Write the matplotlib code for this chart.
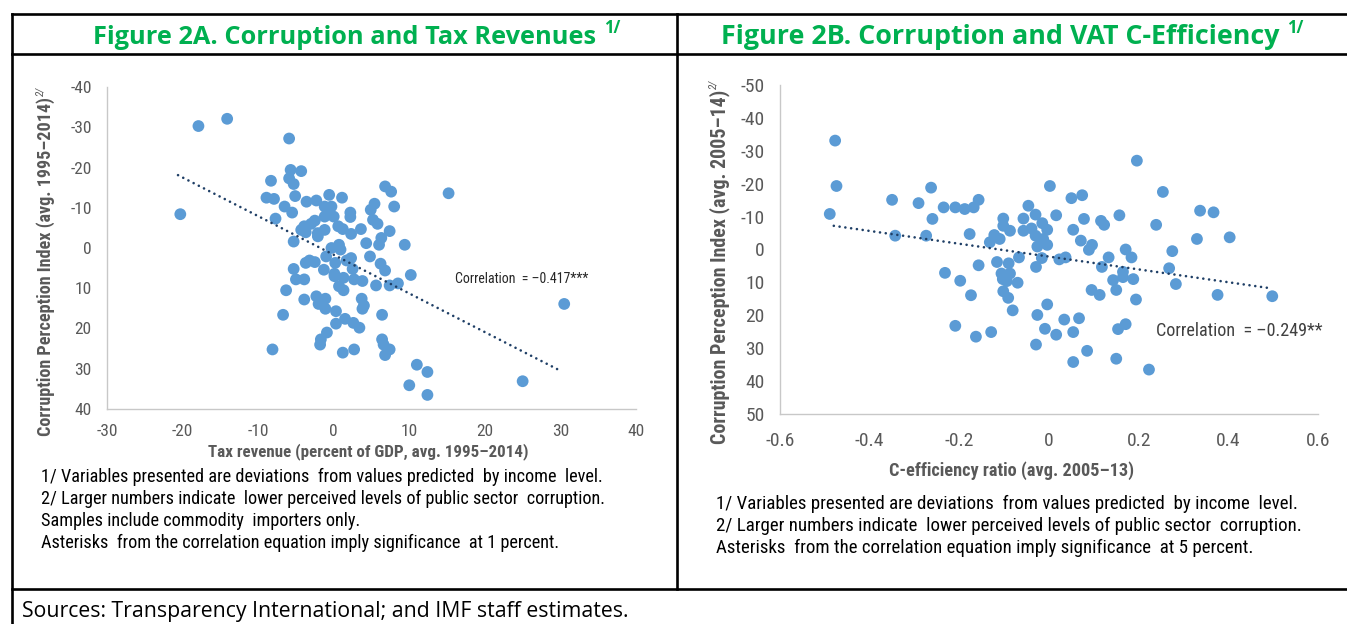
import matplotlib
matplotlib.use("Agg")
import matplotlib.pyplot as plt
from matplotlib.lines import Line2D
import logging
logging.getLogger('matplotlib.font_manager').setLevel(logging.ERROR)

plt.rcParams['axes.unicode_minus'] = False
NARROW = ['Liberation Sans Narrow', 'Roboto Condensed', 'Liberation Sans', 'DejaVu Sans']
SEGOE = ['Open Sans', 'Noto Sans', 'DejaVu Sans']
plt.rcParams['font.family'] = NARROW

# ---------------- data: Figure 2A ----------------
tax_dev = [-17.9, -14.1, -20.3, -5.9, -5.7, -4.3, -5.9, -5.3, -8.3, -8.9,
           -7.9, -5.1, -6.5, -5.5, -7.7, -3.6, -2.3, -0.6, 1.1, -1.2,
           -0.3, -0.7, 0.0, -1.2, 2.2, 2.2, -2.5, -3.0, -3.9, -4.3,
           -3.7, -2.1, -1.2, 0.6, 1.2, 2.3, 3.6, -5.3, -2.1, 5.4,
           4.9, 6.8, 7.6, 8.0, 5.2, 5.8, 7.4, 6.3, 6.0, 4.3,
           9.4, 15.2, -0.3, 0.7, 0.9, -1.0, 0.2, 1.7, 2.3, 2.5,
           4.8, -3.7, -3.2, -2.5, -5.3, -5.0, -3.9, -1.3, 0.1, 0.1,
           1.3, 2.7, 3.8, 6.2, 6.8, 5.6, 7.4, 8.5, 10.2, -6.3,
           -3.9, -2.3, -1.1, -2.0, -1.1, 0.7, 1.3, 0.3, 3.7, 4.0,
           3.8, -6.7, 6.4, 1.5, 0.3, 2.6, 3.4, -0.9, -1.7, -1.8,
           6.4, 6.6, 7.4, 6.8, -8.1, 1.2, 2.7, 11.0, 12.4, 10.0,
           12.4, 25.0, 30.5]
cpi_dev_a = [-30.3, -32.1, -8.4, -27.2, -19.4, -19.1, -17.3, -15.9, -16.7, -12.5,
             -12.2, -12.9, -10.3, -8.8, -7.3, -11.5, -11.8, -13.2, -12.5, -10.3,
             -10.3, -8.7, -7.8, -7.8, -8.8, -7.7, -6.8, -6.0, -5.4, -4.5,
             -3.9, -3.7, -4.5, -5.4, -4.7, -3.5, -4.7, -1.6, -2.9, -11.0,
             -9.5, -15.3, -14.0, -10.3, -7.0, -6.0, -4.2, -2.5, -0.8, -1.2,
             -0.8, -13.6, 0.0, -0.8, 0.4, 2.1, 3.7, 3.1, 2.5, 5.2,
             2.1, 3.7, 3.1, 3.5, 5.2, 7.8, 7.8, 5.4, 6.4, 7.0,
             7.4, 7.8, 8.2, 3.9, 5.6, 9.3, 9.3, 8.8, 6.7, 10.5,
             12.8, 12.0, 12.6, 13.9, 15.1, 9.5, 10.5, 15.7, 12.6, 14.3,
             15.1, 16.6, 16.6, 17.6, 18.8, 18.6, 19.8, 21.0, 22.7, 24.0,
             22.7, 24.0, 25.2, 26.6, 25.2, 26.0, 25.2, 29.0, 30.8, 34.1,
             36.5, 33.1, 13.9]
trend_a_x = [-20.6, 30.0]
trend_a_y = [-18.1, 30.5]
xticks_a = [-30, -20, -10, 0, 10, 20, 30, 40]
yticks_a = [-40, -30, -20, -10, 0, 10, 20, 30, 40]

# ---------------- data: Figure 2B ----------------
ceff_dev = [-0.477, -0.474, -0.489, -0.343, -0.350, -0.291, -0.263, -0.260, -0.274, -0.235,
            -0.209, -0.188, -0.168, -0.157, -0.177, -0.132, -0.122, -0.110, -0.102, -0.102,
            -0.087, -0.046, -0.057, -0.057, -0.030, -0.039, -0.030, -0.015, -0.004, -0.013,
            -0.026, -0.004, 0.002, 0.016, 0.050, 0.074, 0.078, 0.054, 0.071, 0.096,
            0.089, 0.116, 0.123, 0.157, 0.196, 0.254, 0.239, 0.337, 0.367, 0.330,
            0.403, 0.275, 0.171, 0.184, 0.133, 0.118, 0.268, 0.165, 0.165, 0.143,
            0.188, 0.283, 0.150, 0.095, 0.113, 0.194, 0.376, 0.498, -0.067, -0.016,
            0.023, 0.037, -0.029, -0.116, -0.090, -0.157, -0.106, -0.087, -0.103, -0.094,
            -0.070, -0.232, -0.198, -0.174, -0.102, -0.091, -0.081, -0.004, -0.026, 0.034,
            0.067, -0.209, -0.163, -0.129, -0.009, 0.016, 0.054, -0.029, 0.085, 0.054,
            0.150, 0.154, 0.171, 0.223]
cpi_dev_b = [-33.1, -19.3, -10.8, -4.2, -15.1, -14.1, -18.8, -9.3, -4.2, -12.8,
             -12.8, -12.3, -12.8, -15.1, -4.7, -2.2, -4.4, -3.2, -9.4, -7.2,
             -5.7, -13.3, -9.4, -5.7, -10.6, -6.4, -4.2, -8.0, -6.0, -3.2,
             -0.9, -1.4, -19.3, -10.4, -15.6, -16.5, -9.3, -6.0, -2.7, -1.4,
             0.1, -8.7, -7.5, -10.4, -27.0, -17.5, -7.5, -11.8, -11.3, -3.2,
             -3.7, 0.5, 0.0, 2.4, 2.4, 5.3, 5.7, 6.8, 8.4, 9.3,
             9.0, 10.5, 12.3, 12.3, 13.8, 15.2, 13.8, 14.2, 2.4, 2.6,
             3.0, 2.4, 5.3, 3.8, 4.2, 4.8, 7.3, 7.3, 9.0, 9.6,
             10.1, 7.1, 9.5, 13.9, 12.7, 14.7, 18.5, 16.7, 19.9, 21.3,
             20.9, 23.2, 26.5, 25.1, 24.1, 25.9, 25.1, 28.9, 30.8, 34.2,
             33.2, 24.2, 22.7, 36.5]
trend_b_x = [-0.48, 0.49]
trend_b_y = [-7.2, 11.7]
xticks_b = [-0.6, -0.4, -0.2, 0, 0.2, 0.4, 0.6]
xticklabels_b = ['-0.6', '-0.4', '-0.2', '0', '0.2', '0.4', '0.6']
yticks_b = [-50, -40, -30, -20, -10, 0, 10, 20, 30, 40, 50]

title_a = 'Figure 2A. Corruption and Tax Revenues'
title_b = 'Figure 2B. Corruption and VAT C-Efficiency'
xlabel_a = 'Tax revenue (percent of GDP, avg. 1995\u20132014)'
ylabel_a = 'Corruption Perception Index (avg. 1995\u20132014)'
xlabel_b = 'C-efficiency ratio (avg. 2005\u201313)'
ylabel_b = 'Corruption Perception Index (avg. 2005\u201314)'
corr_a = 'Correlation  = \u20130.417***'
corr_b = 'Correlation  = \u20130.249**'
notes_a = ['1/ Variables presented are deviations  from values predicted  by income  level.',
           '2/ Larger numbers indicate  lower perceived levels of public sector  corruption.',
           'Samples include commodity  importers only.',
           'Asterisks  from the correlation equation imply significance  at 1 percent.']
notes_b = ['1/ Variables presented are deviations  from values predicted  by income  level.',
           '2/ Larger numbers indicate  lower perceived levels of public sector  corruption.',
           'Asterisks  from the correlation equation imply significance  at 5 percent.']
source = 'Sources: Transparency International; and IMF staff estimates.'

# ---------------- figure ----------------
W, H = 1347, 624
fig = plt.figure(figsize=(W / 100, H / 100), dpi=100)
fig.patch.set_facecolor('white')


def fx(x):
    return x / W


def fy(y):
    return 1 - y / H


# table borders
for (x0, y0, x1, y1) in [(12, 14, 1347, 14), (12, 54, 1347, 54), (12, 589, 1347, 589),
                         (12, 14, 12, 624), (677, 14, 677, 589)]:
    fig.add_artist(Line2D([fx(x0), fx(x1)], [fy(y0), fy(y1)], transform=fig.transFigure,
                          color='black', lw=1.9, solid_capstyle='projecting'))

GRAY = '#595959'
BLUE = '#5B9BD5'
TREND = '#1F3F66'


def setup(ax, fs, xpad, ypad):
    ax.tick_params(length=0, labelsize=fs, labelcolor=GRAY)
    ax.tick_params(axis='x', pad=xpad)
    ax.tick_params(axis='y', pad=ypad)
    for s in ['top', 'right']:
        ax.spines[s].set_visible(False)
    for s in ['left', 'bottom']:
        ax.spines[s].set_color('#C8C8C8')
        ax.spines[s].set_linewidth(1.0)
    ax.patch.set_alpha(0)


axA = fig.add_axes([fx(107), fy(409), (636 - 107) / W, (409 - 87) / H])
axA.set_xlim(-30, 40)
axA.set_ylim(40, -40)
axA.set_xticks(xticks_a, [str(v) for v in xticks_a])
axA.set_yticks(yticks_a, [str(v) for v in yticks_a])
setup(axA, 12.5, 11, 11)
axA.scatter(tax_dev, cpi_dev_a, s=72, color=BLUE, edgecolors='none', zorder=3)
axA.plot(trend_a_x, trend_a_y, color=TREND, lw=1.9, ls=(0, (0.01, 2.2)),
         dash_capstyle='round', zorder=4)

axB = fig.add_axes([fx(780), fy(414), (1318 - 780) / W, (414 - 85) / H])
axB.set_xlim(-0.6, 0.6)
axB.set_ylim(50, -50)
axB.set_xticks(xticks_b, xticklabels_b)
axB.set_yticks(yticks_b, [str(v) for v in yticks_b])
setup(axB, 14, 13, 11)
axB.scatter(ceff_dev, cpi_dev_b, s=72, color=BLUE, edgecolors='none', zorder=3)
axB.plot(trend_b_x, trend_b_y, color=TREND, lw=1.9, ls=(0, (0.01, 2.2)),
         dash_capstyle='round', zorder=4)

# texts
tA = fig.text(fx(93), fy(44), title_a, family=SEGOE, weight='bold', color='#00B050',
              fontsize=18, ha='left', va='baseline')
tB = fig.text(fx(721), fy(44), title_b, family=SEGOE, weight='bold', color='#00B050',
              fontsize=18, ha='left', va='baseline')
xlA = fig.text(fx(368), fy(452), xlabel_a, weight='bold', color=GRAY, fontsize=12,
               ha='center', va='center')
xlB = fig.text(fx(1012), fy(471), xlabel_b, weight='bold', color=GRAY, fontsize=12,
               ha='center', va='center')
ylA = fig.text(fx(46), fy(267), ylabel_a, weight='bold', color=GRAY, fontsize=12,
               rotation=90, ha='center', va='center')
ylB = fig.text(fx(720), fy(267), ylabel_b, weight='bold', color=GRAY, fontsize=12,
               rotation=90, ha='center', va='center')
cA = axA.text(16.0, 7.7, corr_a, fontsize=11, color='#262626', ha='left', va='center')
cB = axB.text(0.238, 24.7, corr_b, fontsize=12, color='#404040', ha='left', va='center')
nA = [fig.text(fx(41), fy(y), s, fontsize=11, color='black', ha='left', va='center')
      for s, y in zip(notes_a, [477, 499, 521, 543])]
nB = [fig.text(fx(716), fy(y), s, fontsize=11, color='black', ha='left', va='center')
      for s, y in zip(notes_b, [504, 526, 548])]
src = fig.text(fx(22), fy(611), source, family=SEGOE, fontsize=14, color='black',
               ha='left', va='center')

fig.canvas.draw()
R = fig.canvas.get_renderer()


def fit(t, target, vertical=False):
    bb = t.get_window_extent(R)
    cur = bb.height if vertical else bb.width
    t.set_fontsize(t.get_fontsize() * target / cur)


fit(tA, 503)
fit(tB, 561)
fit(xlA, 320)
fit(xlB, 245)
fit(ylA, 340, vertical=True)
fit(ylB, 355, vertical=True)
fit(cA, 134)
fit(cB, 167)
fit(nA[0], 562)
for t in nA[1:]:
    t.set_fontsize(nA[0].get_fontsize())
fit(nB[0], 581)
for t in nB[1:]:
    t.set_fontsize(nB[0].get_fontsize())
fit(src, 606)

fig.canvas.draw()


def sup_h(t, s, base_y, fs):
    bb = t.get_window_extent(R)
    fig.text((bb.x1 + 8) / W, fy(base_y - 11), s, family=SEGOE, weight='bold',
             color='#00B050', fontsize=fs, ha='left', va='baseline')


def sup_v(t, s, fs):
    bb = t.get_window_extent(R)
    fig.text((bb.x0 - 1) / W, (bb.y1 + 1) / H, s, color=GRAY, fontsize=fs,
             style='italic', rotation=90, ha='left', va='bottom')


sup_h(tA, '1/', 44, 12)
sup_h(tB, '1/', 44, 12)
sup_v(ylA, '2/', 8)
sup_v(ylB, '2/', 8)

fig.savefig('out.png', dpi=100, facecolor='white')
